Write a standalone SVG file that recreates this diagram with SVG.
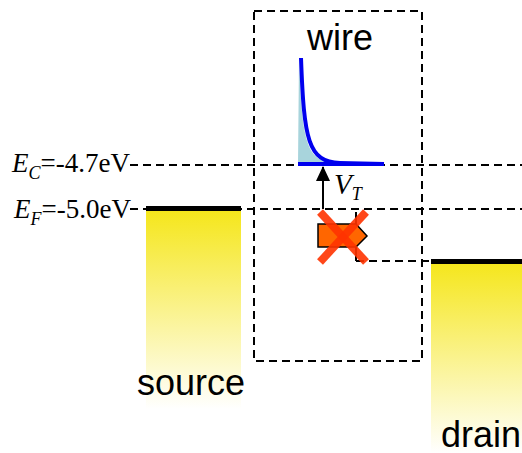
<svg xmlns="http://www.w3.org/2000/svg" width="522" height="453" viewBox="0 0 522 453">
<defs>
<linearGradient id="yel" x1="0" y1="0" x2="0" y2="1">
<stop offset="0" stop-color="#f5e61a"/>
<stop offset="1" stop-color="#ffffff"/>
</linearGradient>
<marker id="ah" markerWidth="15" markerHeight="14" refX="14" refY="7" orient="auto" markerUnits="userSpaceOnUse" viewBox="0 0 15 14">
<path d="M0,0 L15,7 L0,14 Z" fill="#000"/>
</marker>
<style>
.dash{fill:none;stroke:#000;stroke-width:2;stroke-dasharray:8,5}
.lbl{font-family:"Liberation Sans",Arial,sans-serif;font-size:36px;fill:#000}
.eq{font-family:"Liberation Serif","Times New Roman",serif;font-size:27px;fill:#000}
.sub{font-size:18px;font-style:italic}
</style>
</defs>
<rect width="522" height="453" fill="#fff"/>
<g id="connectors">
<rect class="dash" x="254" y="11" width="168" height="350"/>
<line class="dash" x1="130" y1="165" x2="522" y2="165"/>
<line class="dash" x1="130" y1="209" x2="522" y2="209"/>
<line class="dash" x1="356" y1="261" x2="522" y2="261"/>
<line x1="323" y1="209" x2="323" y2="167" stroke="#000" stroke-width="2" marker-end="url(#ah)"/>
</g>
<g id="source">
<rect x="146" y="209" width="95" height="200" fill="url(#yel)"/>
<rect x="146" y="206" width="95" height="5" fill="#000"/>
<text class="lbl" x="191" y="395" text-anchor="middle">source</text>
</g>
<g id="drain">
<rect x="431" y="261" width="91" height="192" fill="url(#yel)"/>
<rect x="431" y="259" width="91" height="5" fill="#000"/>
<text class="lbl" x="441" y="447">drain</text>
</g>
<g id="wire">
<text class="lbl" x="340" y="50" text-anchor="middle">wire</text>
<path d="M299,58 C302,130 304,160 330,162 L330,164 L298,164 Z" fill="#a8d4dc"/>
<path d="M301,58 C304,140 308,162 340,163 L384,164" fill="none" stroke="#0000ee" stroke-width="4"/>
<line x1="298" y1="164" x2="384" y2="164" stroke="#0000ee" stroke-width="4"/>
</g>
<g id="labels">
<text class="eq" x="12" y="172"><tspan font-style="italic">E</tspan><tspan class="sub" dy="7">C</tspan><tspan dy="-7">=-4.7eV</tspan></text>
<text class="eq" x="14" y="218"><tspan font-style="italic">E</tspan><tspan class="sub" dy="7">F</tspan><tspan dy="-7">=-5.0eV</tspan></text>
<text class="eq" x="334" y="194" style="font-size:29px"><tspan font-style="italic">V</tspan><tspan class="sub" dy="6">T</tspan></text>
</g>
<g id="trap">
<polygon points="318,224 356,224 367,236 356,247 318,247" fill="#ff6600" stroke="#000" stroke-width="1.5"/>
<line x1="356" y1="212" x2="356" y2="224" stroke="#000" stroke-width="2"/>
<line x1="356" y1="247" x2="356" y2="261" stroke="#000" stroke-width="2"/>
<line x1="320" y1="212" x2="366" y2="262" stroke="#ff3300" stroke-width="8" stroke-opacity="0.9"/>
<line x1="366" y1="212" x2="320" y2="262" stroke="#ff3300" stroke-width="8" stroke-opacity="0.9"/>
</g>
</svg>
